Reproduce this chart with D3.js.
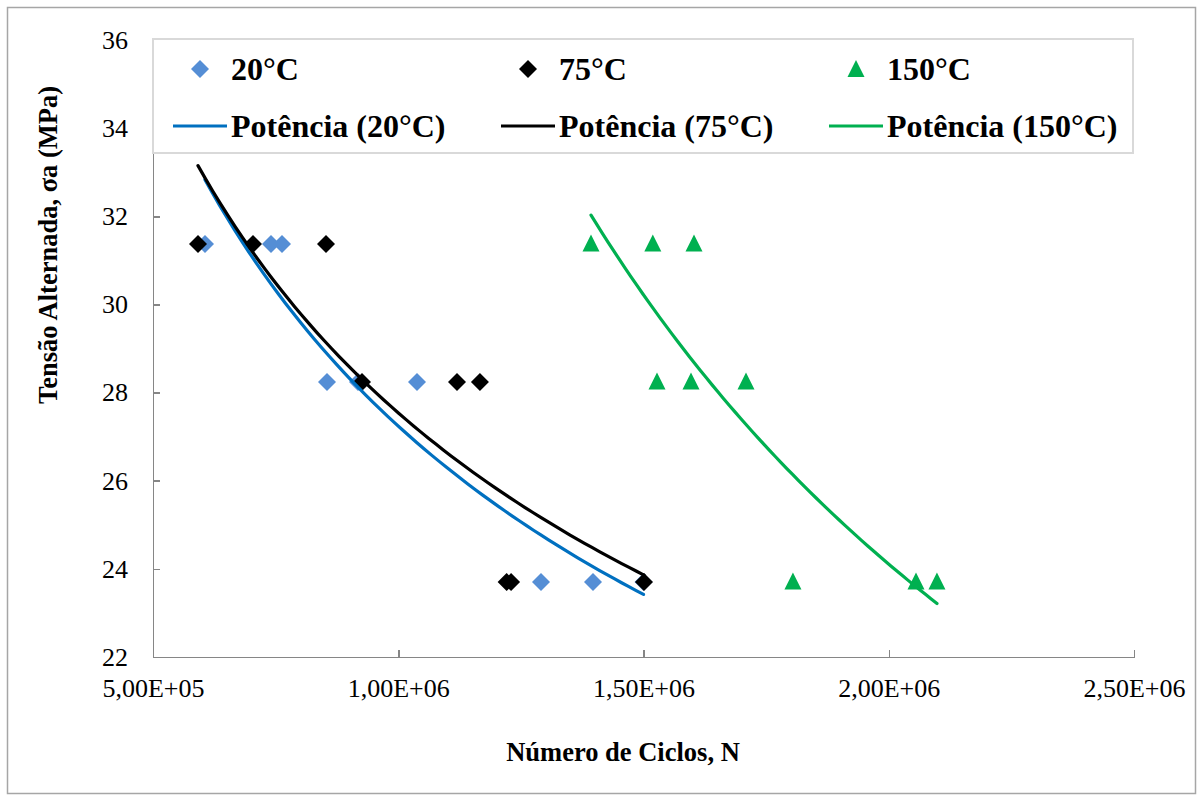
<!DOCTYPE html>
<html lang="pt">
  <head>
    <meta charset="UTF-8" />
    <style>
      body {
        margin: 0;
        background: #fff;
      }
      svg {
        font-family: "Liberation Serif", "Times New Roman", serif;
      }
      .axis path,
      .axis line {
        stroke: #868686;
        stroke-width: 1.5;
        shape-rendering: crispEdges;
      }
      .axis text {
        font-size: 26px;
        fill: #000;
        font-family: "Liberation Serif", serif;
      }
    </style>
    <script src="https://d3js.org/d3.v7.min.js"></script>
    <title>Curva S-N</title>
  </head>
  <body>
    <script>
      // series names and legend labels
      var seriesNames = ["20°C", "75°C", "150°C"];
      var trendNames = ["Potência (20°C)", "Potência (75°C)", "Potência (150°C)"];

      // points: number of cycles and alternating stress (MPa)
      var cycles20 = [606000, 740600, 763000, 854700, 918000, 1038200, 1291000, 1397000, 1500000];
      var stress20 = [31.37, 31.37, 31.37, 28.24, 28.24, 28.24, 23.7, 23.7, 23.7];

      var cycles75 = [591700, 703900, 852700, 926100, 1119800, 1166600, 1221000, 1230000, 1501000];
      var stress75 = [31.37, 31.37, 31.37, 28.24, 28.24, 28.24, 23.7, 23.7, 23.7];

      var cycles150 = [1393000, 1519000, 1603000, 1527500, 1596800, 1709000, 1804700, 2055600, 2098300];
      var stress150 = [31.37, 31.37, 31.37, 28.24, 28.24, 28.24, 23.7, 23.7, 23.7];

      // power trendlines  y = a * (N/1e6)^b, drawn over [min N, max N]
      var trendA = [27.24, 27.54, 41.55];
      var trendB = [-0.3727, -0.35325, -0.78542];

      var xTicks = [500000, 1000000, 1500000, 2000000, 2500000];
      var yTicks = [22, 24, 26, 28, 30, 32, 34, 36];

      var colorsPts = ["#558ed5", "#000000", "#00b050"];
      var colorsLine = ["#0070c0", "#000000", "#00b050"];
      var shapes = ["diamond", "diamond", "triangle"];

      var W = 1203, H = 801;
      var margin = { top: 40, right: 69, bottom: 144, left: 153 };
      var width = 1134 - 153, height = 657 - 40;

      var svg = d3.select("body").append("svg").attr("width", W).attr("height", H);

      svg.append("rect")
        .attr("x", 7.5).attr("y", 7.5)
        .attr("width", 1188).attr("height", 786)
        .attr("fill", "#fff")
        .attr("stroke", "#a6a6a6")
        .attr("stroke-width", 1.5);

      var g = svg.append("g")
        .attr("transform", "translate(" + margin.left + "," + margin.top + ")");

      var x = d3.scaleLinear().domain([500000, 2500000]).range([0, width]);
      var y = d3.scaleLinear().domain([22, 36]).range([height, 0]);

      var fmt = function (d) {
        var e = Math.floor(Math.log10(d));
        var m = (d / Math.pow(10, e)).toFixed(2).replace(".", ",");
        return m + "E+" + (e < 10 ? "0" + e : e);
      };

      var xAxis = g.append("g")
        .attr("class", "axis")
        .attr("transform", "translate(0," + height + ")")
        .call(d3.axisBottom(x).tickValues(xTicks).tickFormat(fmt).tickSizeInner(-7).tickSizeOuter(0))
        .attr("font-family", "Liberation Serif")
        .attr("font-size", 26);
      xAxis.selectAll("text").attr("y", 22).attr("dy", "0.71em");

      var yAxis = g.append("g")
        .attr("class", "axis")
        .call(d3.axisLeft(y).tickValues(yTicks).tickSizeInner(-7).tickSizeOuter(0))
        .attr("font-family", "Liberation Serif")
        .attr("font-size", 26);
      yAxis.selectAll("text").attr("x", -25);

      function markerPath(shape) {
        if (shape === "diamond") return "M0,-9L9,0L0,9L-9,0Z";
        return "M0,-9L8.5,8L-8.5,8Z";
      }

      var sets = [
        { xs: cycles20, ys: stress20 },
        { xs: cycles75, ys: stress75 },
        { xs: cycles150, ys: stress150 }
      ];

      // markers
      sets.forEach(function (s, i) {
        g.append("g")
          .selectAll("path")
          .data(d3.range(s.xs.length))
          .enter()
          .append("path")
          .attr("d", markerPath(shapes[i]))
          .attr("transform", function (k) {
            var dy = shapes[i] === "triangle" ? -0.5 : 0;
            return "translate(" + x(s.xs[k]) + "," + (y(s.ys[k]) + dy) + ")";
          })
          .attr("fill", colorsPts[i]);
      });

      // trendlines
      var line = d3.line()
        .x(function (d) { return x(d[0]); })
        .y(function (d) { return y(d[1]); });

      sets.forEach(function (s, i) {
        var lo = d3.min(s.xs), hi = d3.max(s.xs);
        var pts = d3.range(0, 61).map(function (k) {
          var n = lo + (hi - lo) * k / 60;
          return [n, trendA[i] * Math.pow(n / 1e6, trendB[i])];
        });
        g.append("path")
          .datum(pts)
          .attr("d", line)
          .attr("fill", "none")
          .attr("stroke", colorsLine[i])
          .attr("stroke-width", 3.2)
          .attr("stroke-linecap", "round");
      });

      // legend
      var leg = svg.append("g");
      leg.append("rect")
        .attr("x", 153).attr("y", 39)
        .attr("width", 980).attr("height", 114)
        .attr("fill", "#fff")
        .attr("stroke", "#d9d9d9")
        .attr("stroke-width", 2);

      var colX = [200, 528, 856];
      var rowY = [69, 126];

      seriesNames.forEach(function (name, i) {
        leg.append("path")
          .attr("d", markerPath(shapes[i]))
          .attr("transform", "translate(" + colX[i] + "," + rowY[0] + ")")
          .attr("fill", colorsPts[i]);
        leg.append("text")
          .attr("x", colX[i] + 31)
          .attr("y", rowY[0])
          .attr("dy", "0.35em")
          .style("font-size", "32px")
          .style("font-weight", "bold")
          .text(name);
      });

      trendNames.forEach(function (name, i) {
        leg.append("line")
          .attr("x1", colX[i] - 27).attr("x2", colX[i] + 27)
          .attr("y1", rowY[1]).attr("y2", rowY[1])
          .attr("stroke", colorsLine[i])
          .attr("stroke-width", 3.2);
        leg.append("text")
          .attr("x", colX[i] + 31)
          .attr("y", rowY[1])
          .attr("dy", "0.35em")
          .style("font-size", "32px")
          .style("font-weight", "bold")
          .text(name);
      });

      // axis titles
      svg.append("text")
        .attr("x", 623)
        .attr("y", 761)
        .attr("text-anchor", "middle")
        .style("font-size", "26.5px")
        .style("font-weight", "bold")
        .text("Número de Ciclos, N");

      svg.append("text")
        .attr("transform", "translate(57,245) rotate(-90)")
        .attr("text-anchor", "middle")
        .style("font-size", "26.5px")
        .style("font-weight", "bold")
        .text("Tensão Alternada, σa (MPa)");
    </script>
  </body>
</html>
